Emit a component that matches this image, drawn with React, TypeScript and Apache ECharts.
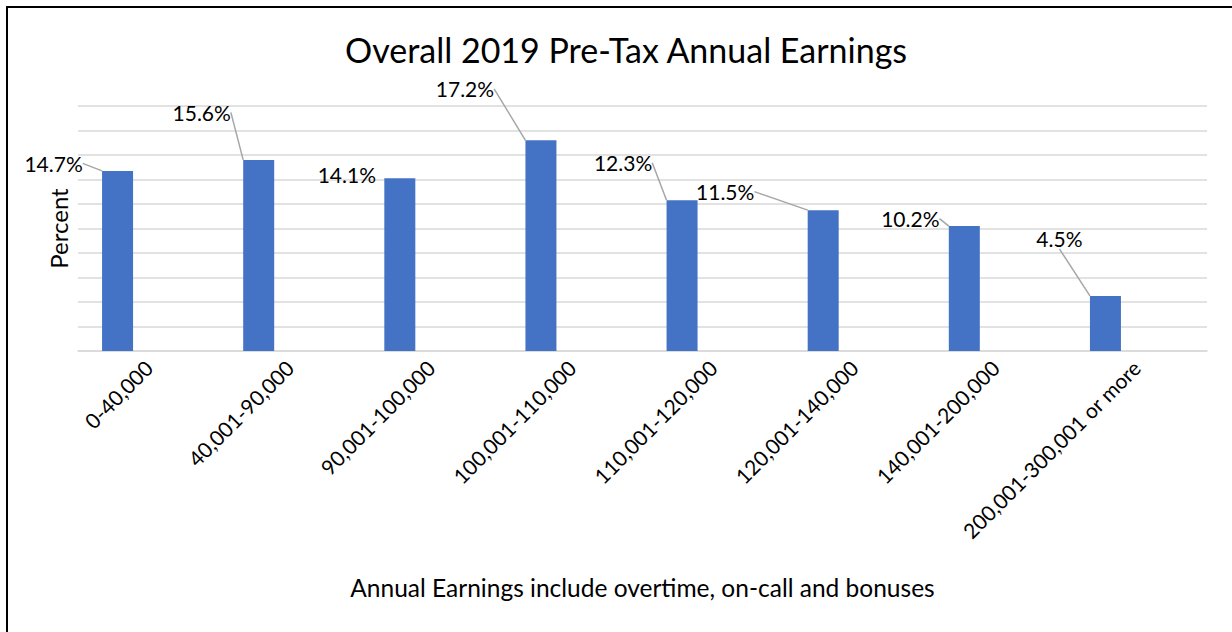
import React, { useEffect, useRef } from "react";
import * as echarts from "echarts";

const categories = [
  "0-40,000",
  "40,001-90,000",
  "90,001-100,000",
  "100,001-110,000",
  "110,001-120,000",
  "120,001-140,000",
  "140,001-200,000",
  "200,001-300,001 or more",
];
const percentValues = [14.7, 15.6, 14.1, 17.2, 12.3, 11.5, 10.2, 4.5];
const yTicks = { min: 0, max: 20, interval: 2 };

// label offsets (moved data labels, as in the reference)
const labelDx = [-64, -57, -53, -76, -59, -98, -54, -46];
const labelDy = [8, -32, 12, -36, -22, -3, 8, -42];
const showLeader = [true, true, false, true, true, true, true, true];

const FONT = "Lato, 'Open Sans', sans-serif";

export default function App() {
  const ref = useRef<HTMLDivElement>(null);
  useEffect(() => {
    if (!ref.current) return;
    const chart = echarts.init(ref.current, undefined, { renderer: "svg" });
    chart.setOption({
      animation: false,
      backgroundColor: "#ffffff",
      textStyle: { fontFamily: FONT },
      title: {
        text: "Overall 2019 Pre-Tax Annual Earnings",
        left: 340,
        top: 27,
        textStyle: { fontFamily: FONT, fontSize: 34, fontWeight: "normal", color: "#000" },
      },
      grid: { left: 78, right: 25, top: 106, bottom: 281, containLabel: false },
      xAxis: {
        type: "category",
        data: categories,
        name: "Annual Earnings include overtime, on-call and bonuses",
        nameLocation: "middle",
        nameGap: 224,
        nameTextStyle: { fontFamily: FONT, fontSize: 24.5, color: "#000" },
        axisLine: { show: true, lineStyle: { color: "#d9d9d9", width: 1.5 } },
        axisTick: { show: false },
        axisLabel: {
          rotate: 45,
          interval: 0,
          margin: 13,
          fontFamily: FONT,
          fontSize: 21,
          color: "#000",
        },
      },
      yAxis: {
        type: "value",
        min: yTicks.min,
        max: yTicks.max,
        interval: yTicks.interval,
        name: "Percent",
        nameLocation: "middle",
        nameGap: 8,
        nameTextStyle: { fontFamily: FONT, fontSize: 24, color: "#000" },
        axisLabel: { show: false },
        axisLine: { show: false },
        axisTick: { show: false },
        splitLine: { lineStyle: { color: "#d9d9d9", width: 1.5 } },
      },
      series: [
        {
          type: "bar",
          barWidth: 31,
          barGap: "0%",
          itemStyle: { color: "#4472C4" },
          data: percentValues.map((v, i) => ({
            value: v,
            labelLine: { show: showLeader[i] },
          })),
          label: {
            show: true,
            position: "top",
            formatter: (p: any) => p.value.toFixed(1) + "%",
            fontFamily: FONT,
            fontSize: 21,
            color: "#000",
          },
          labelLine: {
            show: true,
            lineStyle: { color: "#a6a6a6", width: 1.5 },
          },
          labelLayout: (p: any) => ({
            dx: labelDx[p.dataIndex],
            dy: labelDy[p.dataIndex],
          }),
        },
        { type: "bar", barWidth: 31, barGap: "0%", data: [] },
        { type: "bar", barWidth: 31, barGap: "0%", data: [] },
      ],
      graphic: [
        {
          type: "line",
          shape: { x1: 7, y1: 7, x2: 1232, y2: 7 },
          style: { stroke: "#000", lineWidth: 2 },
        },
        {
          type: "line",
          shape: { x1: 7, y1: 6, x2: 7, y2: 632 },
          style: { stroke: "#000", lineWidth: 2 },
        },
      ],
    });
    return () => chart.dispose();
  }, []);
  return (
    <div
      ref={ref}
      style={{ position: "fixed", left: 0, top: 0, width: 1232, height: 632 }}
    />
  );
}
